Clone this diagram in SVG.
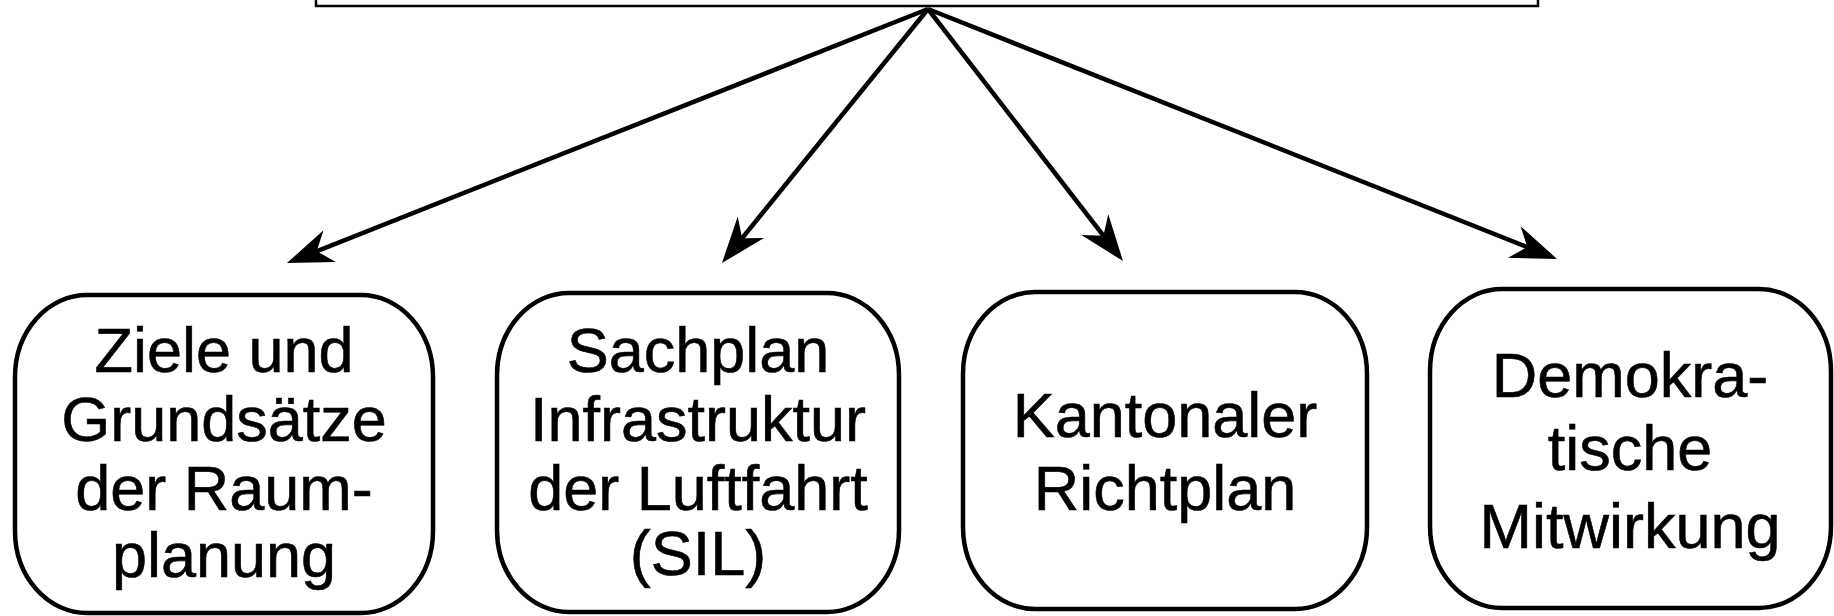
<svg xmlns="http://www.w3.org/2000/svg" width="1834" height="616" viewBox="0 0 1834 616">
<style>
.box{fill:#fff;stroke:#000;stroke-width:4.5}
.top{fill:#fff;stroke:#000;stroke-width:2.5}
.lbl{font-family:"Liberation Sans",Arial,sans-serif;font-size:63px;fill:#000;stroke:#000;stroke-width:0.6;text-anchor:middle}
.arr{stroke:#000;stroke-width:4.5;fill:none;marker-end:url(#head)}
</style>
<defs>
<marker id="head" markerUnits="userSpaceOnUse" viewBox="-40 -18 50 36" refX="0" refY="0" markerWidth="50" markerHeight="36" orient="auto">
<path d="M8,0 L-38,-17 L-24,0 L-38,17 Z" fill="#000"/>
</marker>
</defs>
<rect width="1834" height="616" fill="#fff"/>
<g id="top-node"><rect class="top" x="316" y="-20" width="1222" height="26"/></g>
<g id="connectors">
<line class="arr" x1="928" y1="9" x2="294.4" y2="260.1"/>
<line class="arr" x1="928" y1="9" x2="727.0" y2="256.8"/>
<line class="arr" x1="928" y1="9" x2="1118.1" y2="254.7"/>
<line class="arr" x1="928" y1="9" x2="1549.6" y2="256.0"/>
</g>
<g id="node1">
<rect class="box" x="15" y="295" width="418" height="318" rx="72" ry="82"/>
<text class="lbl" x="224" y="372">Ziele und</text>
<text class="lbl" x="224" y="441">Grundsätze</text>
<text class="lbl" x="224" y="510">der Raum-</text>
<text class="lbl" x="224" y="577">planung</text>
</g>
<g id="node2">
<rect class="box" x="497" y="293" width="402" height="319" rx="72" ry="82"/>
<text class="lbl" x="698" y="372">Sachplan</text>
<text class="lbl" x="698" y="441">Infrastruktur</text>
<text class="lbl" x="698" y="510">der Luftfahrt</text>
<text class="lbl" x="698" y="575">(SIL)</text>
</g>
<g id="node3">
<rect class="box" x="963" y="292" width="404" height="317" rx="72" ry="82"/>
<text class="lbl" x="1165" y="437">Kantonaler</text>
<text class="lbl" x="1165" y="510">Richtplan</text>
</g>
<g id="node4">
<rect class="box" x="1430" y="289" width="401" height="319" rx="72" ry="82"/>
<text class="lbl" x="1630" y="397">Demokra-</text>
<text class="lbl" x="1630" y="470">tische</text>
<text class="lbl" x="1630" y="548">Mitwirkung</text>
</g>
</svg>
